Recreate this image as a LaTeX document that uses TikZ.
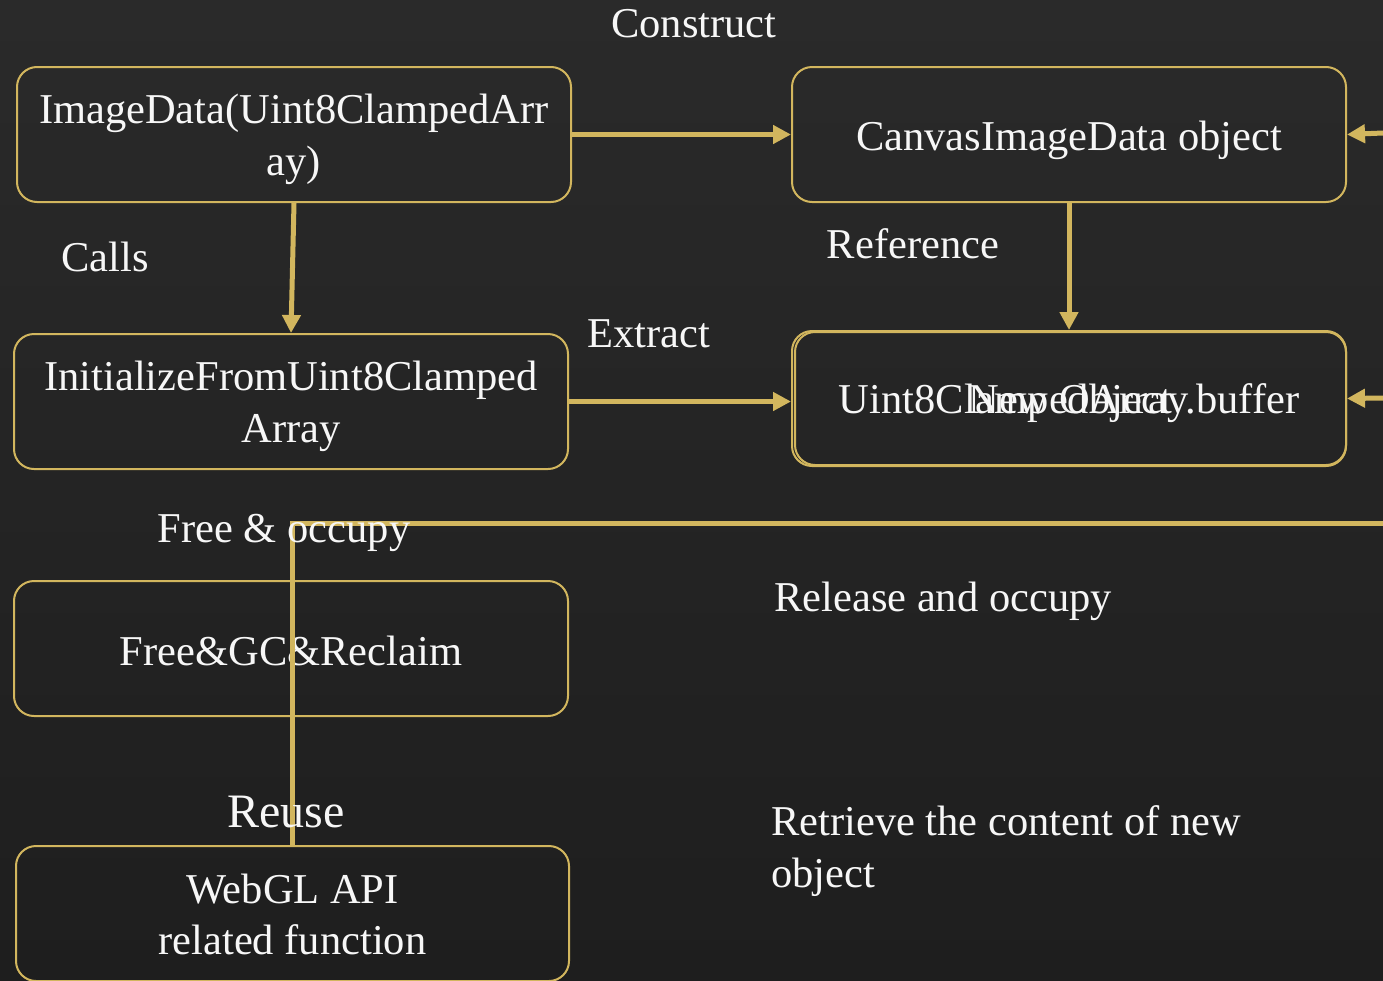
\documentclass[tikz,border=0pt]{standalone}
\usepackage{fontspec}
\setmainfont{Liberation Serif}
\usetikzlibrary{arrows.meta}
\definecolor{bgtop}{HTML}{2A2A2A}
\definecolor{bgbot}{HTML}{1E1E1E}
\definecolor{gold}{HTML}{D2B65E}
\definecolor{txt}{HTML}{F7F7F7}
\tikzset{
  box/.style={draw=gold, line width=2pt, rounded corners=20pt, minimum width=554pt,
    minimum height=135pt, inner sep=0pt},
  lbl/.style={text=txt, inner sep=0pt, align=center, font=\fontsize{42.5}{51.5}\selectfont},
  arr/.style={draw=gold, line width=5pt, -{Triangle[length=18pt,width=18pt]}},
  link/.style={draw=gold, line width=5pt},
}
\begin{document}
\begin{tikzpicture}[x=1pt,y=-1pt]
  % canvas
  \shade[top color=bgtop, bottom color=bgbot] (0,0) rectangle (1383,980);
  \useasboundingbox (0,0) rectangle (1383,980);

  % boxes, their texts set as centred labels
  \node[box, label={[lbl, yshift=-5pt]center:{ImageData(Uint8ClampedArr\\ay)}}] (A) at (294,134.5) {};
  \node[box, label={[lbl, yshift=-6pt]center:{CanvasImageData object}}] (B) at (1069,134.5) {};
  \node[box, label={[lbl, yshift=-5pt]center:{InitializeFromUint8Clamped\\Array}}] (C) at (291,401.5) {};
  \node[box, label={[lbl, yshift=-5pt]center:{Uint8ClampedArray.buffer}}] (D) at (1069,398.5) {};
  \node[box, minimum width=551pt, minimum height=133pt,
        label={[lbl, yshift=-5pt]center:{New Object}}] (N) at (1070.5,398.5) {};
  \node[box, label={[lbl, yshift=-2pt]center:{Free\&GC\&Reclaim}}] (E) at (291,648.5) {};
  \node[box, minimum width=553pt, label={[lbl, yshift=-1pt]center:{WebGL API\\related function}}] (F) at (292.5,913.5) {};

  % free ends at the right border
  \coordinate (rb) at (1383,133);
  \coordinate (rd) at (1383,398);
  \coordinate (rl) at (1383,523);

  % connectors
  \draw[arr] (A.east) -- (B.west);
  \draw[arr] (A.south) -- (C.north);
  \draw[arr] (B.south) -- (D.north);
  \draw[arr] (C.east) -- (C.east -| D.west);
  \draw[arr] (rb) -- (B.east);
  \draw[arr] (rd) -- (D.east);
  \draw[link] (rl) -| (F.north);

  % labels
  \node[lbl] (l1) at (694,24) {Construct};
  \node[lbl] (l2) at (105,257) {Calls};
  \node[lbl] (l3) at (913,244) {Reference};
  \node[lbl] (l4) at (649,334) {Extract};
  \node[lbl] (l5) at (284,533) {Free \& occupy};
  \node[lbl] (l6) at (943,601) {Release and occupy};
  \node[lbl, font=\fontsize{48}{56}\selectfont] (l7) at (286,812) {Reuse};
  \node[lbl, align=left, anchor=west] (l8) at (771,851) {Retrieve the content of new\\object};
\end{tikzpicture}
\end{document}
